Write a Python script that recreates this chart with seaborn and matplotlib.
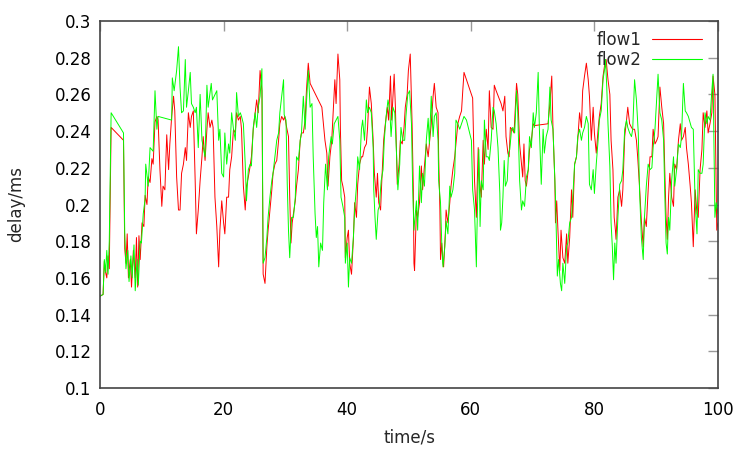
import matplotlib
matplotlib.use("Agg")
import matplotlib.pyplot as plt
import seaborn as sns
import pandas as pd

# flow1 delay (red)
flow1_t = [0.0, 0.5, 0.7, 0.9, 1.1, 1.3, 1.5, 1.8, 3.8, 4.0, 4.2, 4.4, 4.6, 4.9, 5.1, 5.4, 5.7, 5.9, 6.1, 6.3,
           6.5, 6.8, 7.1, 7.3, 7.6, 7.8, 8.1, 8.4, 8.6, 8.9, 9.2, 9.4, 9.7, 10.0, 10.2, 10.5, 10.8, 11.1, 11.3, 11.6,
           11.9, 12.1, 12.4, 12.7, 12.95, 13.2, 13.5, 13.8, 14.0, 14.3, 14.6, 14.8, 15.1, 15.4, 15.6, 15.9, 16.2, 16.5, 16.7, 17.0,
           17.3, 17.5, 17.8, 18.1, 18.3, 18.6, 18.9, 19.2, 19.4, 19.7, 20.0, 20.2, 20.5, 20.8, 21.0, 21.3, 21.6, 21.9, 22.1, 22.4,
           22.7, 22.9, 23.2, 23.5, 23.7, 24.0, 24.3, 24.5, 24.8, 25.1, 25.35, 25.6, 25.9, 26.2, 26.4, 26.7, 27.0, 27.2, 27.5, 27.8,
           28.0, 28.3, 28.6, 28.9, 29.1, 29.4, 29.7, 29.9, 30.2, 30.5, 30.7, 30.9, 31.1, 31.3, 31.6, 31.8, 32.1, 32.4, 32.6, 32.9,
           33.2, 33.4, 33.7, 34.0, 35.9, 36.1, 36.4, 36.7, 36.9, 37.2, 37.5, 37.8, 38.0, 38.2, 38.5, 38.8, 38.9, 39.1, 39.3, 39.6,
           39.7, 40.0, 40.2, 40.4, 40.7, 41.0, 41.2, 41.5, 41.7, 42.0, 42.3, 42.5, 42.8, 43.1, 43.3, 43.6, 43.9, 44.2, 44.4, 44.7,
           44.9, 45.1, 45.4, 45.6, 45.9, 46.1, 46.5, 46.7, 47.0, 47.2, 47.6, 47.8, 48.1, 48.4, 48.6, 48.9, 49.2, 49.4, 49.7, 49.9,
           50.2, 50.5, 50.7, 50.8, 50.9, 51.2, 51.4, 51.7, 52.0, 52.2, 52.5, 52.8, 53.1, 53.3, 53.6, 53.9, 54.1, 54.4, 54.7, 54.8,
           55.0, 55.1, 55.3, 55.5, 55.6, 55.9, 56.0, 56.3, 56.6, 56.8, 57.1, 57.4, 57.6, 57.9, 58.2, 58.5, 58.7, 58.9, 60.3, 60.6,
           60.9, 61.2, 61.4, 61.7, 62.0, 62.2, 62.5, 62.8, 63.0, 63.3, 63.6, 63.8, 64.1, 64.9, 65.2, 65.5, 65.7, 66.0, 66.2, 66.4,
           66.7, 67.0, 67.2, 67.4, 67.6, 67.9, 68.2, 68.4, 68.6, 68.8, 69.0, 69.3, 69.5, 69.8, 70.1, 70.3, 72.5, 72.8, 73.1, 73.3,
           73.6, 73.7, 73.9, 74.1, 74.4, 74.6, 74.9, 75.2, 75.5, 75.7, 76.0, 76.3, 76.5, 76.8, 77.1, 77.3, 77.6, 77.9, 78.1, 78.4,
           78.7, 79.0, 79.2, 79.5, 79.8, 80.0, 80.3, 80.6, 80.8, 81.1, 81.4, 81.7, 81.9, 82.2, 82.5, 82.7, 83.0, 83.2, 83.4, 83.5,
           83.8, 84.1, 84.4, 84.6, 84.9, 85.2, 85.4, 85.7, 86.0, 86.2, 86.5, 86.8, 87.0, 87.3, 87.6, 87.9, 88.1, 88.4, 88.7, 89.0,
           89.3, 89.5, 89.8, 90.1, 90.3, 90.6, 90.9, 91.2, 91.4, 91.6, 91.8, 92.0, 92.2, 92.5, 92.8, 93.0, 93.3, 93.6, 93.9, 94.1,
           94.4, 94.7, 94.9, 95.2, 95.5, 95.7, 96.0, 96.3, 96.6, 96.8, 97.1, 97.4, 97.6, 97.9, 98.2, 98.4, 98.7, 99.0, 99.2, 99.5,
           99.8, 100.0]
flow1_v = [0.150, 0.151, 0.169, 0.163, 0.160, 0.172, 0.165, 0.242, 0.235, 0.176, 0.168, 0.184, 0.160, 0.170, 0.155, 0.175, 0.160, 0.182, 0.155, 0.183,
           0.170, 0.190, 0.188, 0.205, 0.200, 0.215, 0.212, 0.225, 0.222, 0.245, 0.248, 0.246, 0.219, 0.199, 0.210, 0.208, 0.238, 0.219, 0.233, 0.248,
           0.259, 0.251, 0.215, 0.197, 0.197, 0.217, 0.222, 0.231, 0.224, 0.250, 0.242, 0.248, 0.251, 0.213, 0.184, 0.197, 0.213, 0.226, 0.237, 0.224,
           0.241, 0.250, 0.242, 0.246, 0.242, 0.204, 0.188, 0.166, 0.186, 0.202, 0.190, 0.184, 0.204, 0.204, 0.219, 0.226, 0.241, 0.239, 0.250, 0.246,
           0.248, 0.241, 0.210, 0.197, 0.210, 0.215, 0.221, 0.226, 0.241, 0.250, 0.257, 0.250, 0.273, 0.262, 0.162, 0.157, 0.177, 0.186, 0.197, 0.208,
           0.217, 0.222, 0.224, 0.235, 0.244, 0.248, 0.246, 0.248, 0.242, 0.237, 0.204, 0.179, 0.190, 0.195, 0.202, 0.210, 0.219, 0.235, 0.239, 0.239,
           0.246, 0.262, 0.277, 0.266, 0.253, 0.246, 0.235, 0.228, 0.210, 0.226, 0.235, 0.255, 0.268, 0.255, 0.282, 0.268, 0.241, 0.213, 0.210, 0.204,
           0.171, 0.182, 0.186, 0.168, 0.162, 0.181, 0.201, 0.193, 0.211, 0.222, 0.226, 0.226, 0.231, 0.233, 0.242, 0.264, 0.255, 0.235, 0.217, 0.204,
           0.217, 0.201, 0.197, 0.213, 0.235, 0.242, 0.253, 0.246, 0.270, 0.246, 0.271, 0.253, 0.211, 0.222, 0.235, 0.233, 0.242, 0.253, 0.260, 0.273,
           0.282, 0.244, 0.208, 0.168, 0.164, 0.197, 0.193, 0.201, 0.221, 0.208, 0.221, 0.233, 0.226, 0.233, 0.244, 0.259, 0.266, 0.253, 0.250, 0.226,
           0.197, 0.170, 0.179, 0.168, 0.166, 0.186, 0.197, 0.190, 0.201, 0.210, 0.219, 0.226, 0.233, 0.244, 0.248, 0.251, 0.262, 0.272, 0.258, 0.213,
           0.193, 0.231, 0.213, 0.204, 0.235, 0.222, 0.241, 0.230, 0.262, 0.242, 0.241, 0.265, 0.262, 0.255, 0.251, 0.259, 0.237, 0.228, 0.226, 0.242,
           0.241, 0.239, 0.253, 0.266, 0.260, 0.233, 0.222, 0.215, 0.233, 0.213, 0.210, 0.219, 0.230, 0.235, 0.244, 0.243, 0.244, 0.255, 0.270, 0.241,
           0.213, 0.190, 0.202, 0.186, 0.164, 0.186, 0.171, 0.168, 0.184, 0.168, 0.182, 0.208, 0.193, 0.222, 0.226, 0.235, 0.250, 0.242, 0.262, 0.270,
           0.277, 0.268, 0.259, 0.235, 0.253, 0.239, 0.228, 0.241, 0.248, 0.255, 0.270, 0.277, 0.279, 0.268, 0.260, 0.235, 0.219, 0.193, 0.186, 0.181,
           0.204, 0.208, 0.199, 0.208, 0.237, 0.246, 0.253, 0.244, 0.242, 0.241, 0.241, 0.235, 0.226, 0.210, 0.191, 0.177, 0.193, 0.188, 0.208, 0.226,
           0.226, 0.241, 0.233, 0.235, 0.237, 0.264, 0.253, 0.244, 0.217, 0.193, 0.181, 0.204, 0.217, 0.204, 0.199, 0.222, 0.219, 0.235, 0.244, 0.235,
           0.237, 0.242, 0.231, 0.222, 0.210, 0.201, 0.177, 0.208, 0.195, 0.193, 0.219, 0.230, 0.250, 0.242, 0.251, 0.239, 0.244, 0.250, 0.270, 0.260,
           0.186, 0.190]

# flow2 delay (green)
flow2_t = [0.0, 0.5, 0.7, 0.9, 1.1, 1.3, 1.5, 1.8, 3.8, 4.0, 4.2, 4.5, 4.7, 5.0, 5.2, 5.5, 5.7, 6.0, 6.2, 6.5,
           6.7, 7.0, 7.3, 7.4, 7.8, 8.1, 8.6, 8.9, 9.2, 9.4, 11.6, 11.7, 12.0, 12.4, 12.7, 12.95, 13.2, 13.5, 13.8, 14.0,
           14.3, 14.6, 14.8, 15.1, 15.4, 15.6, 15.9, 16.2, 16.5, 17.0, 17.3, 17.5, 18.0, 18.2, 18.9, 19.2, 19.4, 19.7, 20.0, 20.2,
           20.5, 20.8, 21.0, 21.3, 21.6, 21.9, 22.1, 22.4, 22.7, 22.9, 23.2, 23.5, 23.7, 24.0, 24.3, 24.5, 24.8, 25.1, 25.35, 25.6,
           25.9, 26.2, 26.4, 26.7, 27.0, 27.2, 27.5, 27.8, 28.0, 28.3, 28.6, 28.9, 29.1, 29.4, 29.7, 29.8, 30.1, 30.3, 30.5, 30.7,
           31.0, 31.3, 31.6, 31.8, 32.1, 32.4, 32.6, 32.9, 33.2, 33.4, 33.7, 34.0, 34.3, 34.5, 34.8, 35.0, 35.2, 35.4, 35.7, 36.0,
           36.2, 36.5, 36.8, 37.0, 37.4, 37.6, 37.9, 38.5, 38.8, 39.0, 39.3, 39.6, 39.7, 40.0, 40.2, 40.4, 40.7, 41.0, 41.2, 41.5,
           41.7, 42.0, 42.3, 42.5, 42.8, 43.1, 43.3, 43.6, 43.9, 44.2, 44.3, 44.5, 44.7, 45.0, 45.2, 45.5, 45.8, 46.0, 46.3, 46.6,
           46.9, 47.1, 47.4, 47.7, 48.0, 48.2, 48.5, 48.7, 49.0, 49.3, 49.5, 49.8, 50.1, 50.4, 50.6, 50.8, 51.2, 51.4, 51.7, 52.0,
           52.2, 52.5, 52.8, 53.1, 53.3, 53.6, 53.9, 54.1, 54.4, 54.7, 54.8, 55.1, 55.3, 55.5, 55.8, 56.0, 56.3, 56.6, 56.8, 57.1,
           57.4, 57.6, 57.9, 58.2, 58.5, 58.9, 59.3, 60.1, 60.3, 60.6, 60.9, 61.0, 61.3, 61.5, 61.7, 62.0, 62.2, 62.5, 62.8, 63.0,
           63.3, 63.6, 63.8, 64.1, 64.4, 64.7, 64.8, 65.0, 65.2, 65.4, 65.6, 65.9, 66.1, 66.3, 66.6, 66.8, 67.1, 67.4, 67.6, 67.9,
           68.2, 68.4, 68.7, 69.0, 69.3, 69.5, 69.8, 70.1, 70.3, 70.6, 70.9, 71.1, 71.4, 71.7, 71.9, 72.2, 72.5, 72.8, 73.0, 73.3,
           73.6, 73.7, 74.0, 74.2, 74.5, 74.7, 74.9, 75.2, 75.5, 75.7, 76.0, 76.3, 76.5, 76.8, 77.1, 77.3, 77.6, 77.9, 78.1, 78.4,
           78.7, 79.0, 79.2, 79.5, 79.8, 80.0, 80.3, 80.6, 80.8, 81.1, 81.4, 81.7, 81.8, 82.0, 82.2, 82.5, 82.7, 82.9, 83.1, 83.3,
           83.5, 83.8, 84.1, 84.4, 84.6, 84.9, 85.2, 85.4, 85.7, 86.0, 86.2, 86.5, 86.8, 87.1, 87.3, 87.6, 87.9, 88.1, 88.4, 88.7,
           89.0, 89.3, 89.5, 89.8, 90.1, 90.3, 90.6, 90.9, 91.2, 91.4, 91.6, 91.8, 92.0, 92.2, 92.5, 92.8, 93.0, 93.3, 93.6, 93.9,
           94.1, 94.4, 94.7, 94.9, 95.2, 95.7, 96.0, 96.3, 96.6, 96.8, 97.1, 97.4, 97.6, 97.9, 98.2, 98.4, 98.7, 99.0, 99.2, 99.5,
           99.7, 100.0]
flow2_v = [0.150, 0.151, 0.170, 0.163, 0.175, 0.162, 0.180, 0.250, 0.239, 0.185, 0.165, 0.175, 0.158, 0.172, 0.160, 0.178, 0.153, 0.170, 0.156, 0.180,
           0.179, 0.195, 0.203, 0.222, 0.210, 0.231, 0.229, 0.262, 0.241, 0.248, 0.246, 0.269, 0.262, 0.273, 0.286, 0.264, 0.250, 0.251, 0.279, 0.253,
           0.262, 0.272, 0.255, 0.253, 0.250, 0.253, 0.231, 0.260, 0.235, 0.226, 0.265, 0.253, 0.266, 0.257, 0.262, 0.235, 0.241, 0.217, 0.215, 0.239,
           0.222, 0.233, 0.228, 0.250, 0.241, 0.235, 0.261, 0.248, 0.250, 0.248, 0.244, 0.222, 0.202, 0.219, 0.222, 0.221, 0.242, 0.250, 0.242, 0.253,
           0.259, 0.274, 0.168, 0.171, 0.182, 0.193, 0.204, 0.213, 0.217, 0.226, 0.235, 0.239, 0.250, 0.259, 0.268, 0.249, 0.246, 0.211, 0.186, 0.171,
           0.193, 0.193, 0.204, 0.226, 0.224, 0.235, 0.239, 0.259, 0.241, 0.255, 0.273, 0.253, 0.255, 0.226, 0.195, 0.182, 0.188, 0.166, 0.179, 0.175,
           0.201, 0.222, 0.208, 0.226, 0.237, 0.233, 0.244, 0.248, 0.235, 0.204, 0.199, 0.193, 0.168, 0.179, 0.155, 0.171, 0.168, 0.182, 0.197, 0.210,
           0.226, 0.219, 0.241, 0.246, 0.235, 0.257, 0.250, 0.253, 0.250, 0.231, 0.208, 0.193, 0.181, 0.197, 0.199, 0.213, 0.219, 0.235, 0.248, 0.257,
           0.251, 0.237, 0.253, 0.250, 0.226, 0.208, 0.222, 0.242, 0.235, 0.235, 0.248, 0.260, 0.262, 0.244, 0.208, 0.186, 0.202, 0.186, 0.221, 0.201,
           0.217, 0.210, 0.235, 0.247, 0.233, 0.259, 0.237, 0.248, 0.250, 0.235, 0.213, 0.201, 0.179, 0.166, 0.177, 0.191, 0.184, 0.210, 0.204, 0.208,
           0.217, 0.246, 0.244, 0.241, 0.244, 0.248, 0.246, 0.235, 0.208, 0.197, 0.166, 0.186, 0.230, 0.188, 0.213, 0.208, 0.246, 0.226, 0.226, 0.224,
           0.235, 0.253, 0.251, 0.244, 0.231, 0.206, 0.186, 0.190, 0.204, 0.224, 0.210, 0.213, 0.228, 0.230, 0.241, 0.242, 0.239, 0.262, 0.250, 0.213,
           0.197, 0.202, 0.199, 0.215, 0.219, 0.237, 0.231, 0.250, 0.242, 0.250, 0.272, 0.241, 0.211, 0.241, 0.228, 0.237, 0.241, 0.264, 0.246, 0.241,
           0.213, 0.204, 0.161, 0.170, 0.157, 0.153, 0.168, 0.157, 0.177, 0.179, 0.190, 0.193, 0.204, 0.222, 0.226, 0.237, 0.241, 0.235, 0.239, 0.242,
           0.248, 0.244, 0.211, 0.208, 0.219, 0.206, 0.222, 0.235, 0.246, 0.251, 0.268, 0.275, 0.279, 0.264, 0.244, 0.221, 0.190, 0.177, 0.159, 0.179,
           0.168, 0.193, 0.211, 0.213, 0.219, 0.241, 0.246, 0.242, 0.239, 0.237, 0.241, 0.268, 0.257, 0.239, 0.208, 0.182, 0.170, 0.193, 0.210, 0.222,
           0.219, 0.220, 0.231, 0.241, 0.259, 0.271, 0.250, 0.246, 0.235, 0.204, 0.179, 0.173, 0.193, 0.186, 0.213, 0.226, 0.210, 0.219, 0.233, 0.231,
           0.237, 0.266, 0.251, 0.250, 0.248, 0.242, 0.241, 0.201, 0.184, 0.219, 0.217, 0.217, 0.222, 0.250, 0.244, 0.248, 0.246, 0.262, 0.271, 0.193,
           0.201, 0.195]

x_ticks = [0, 20, 40, 60, 80, 100]
y_ticks = [0.1, 0.12, 0.14, 0.16, 0.18, 0.2, 0.22, 0.24, 0.26, 0.28, 0.3]

df1 = pd.DataFrame({"t": flow1_t, "delay": flow1_v})
df2 = pd.DataFrame({"t": flow2_t, "delay": flow2_v})

sns.set_style("white")
plt.rcParams["font.family"] = ["DejaVu Sans"]

fig = plt.figure(figsize=(7.5, 4.5), dpi=100)
ax = fig.add_axes([100 / 750, 62 / 450, 618 / 750, 367 / 450])

sns.lineplot(data=df1, x="t", y="delay", ax=ax, color="#ff0000", lw=0.7,
             label="flow1", estimator=None, sort=False)
sns.lineplot(data=df2, x="t", y="delay", ax=ax, color="#00ff00", lw=0.7,
             label="flow2", estimator=None, sort=False)

ax.set_xlim(0, 100)
ax.set_ylim(0.1, 0.3)
ax.set_xticks(x_ticks)
ax.set_yticks(y_ticks)
ax.set_xticklabels([str(v) for v in x_ticks])
ax.set_yticklabels(["%g" % v for v in y_ticks])
ax.tick_params(direction="in", length=7, width=1, color="#999999",
               top=True, right=True, labelsize=12, labelcolor="black")
ax.tick_params(axis="x", pad=9.5)
ax.tick_params(axis="y", pad=6)
ax.set_xlabel("time/s", fontsize=12, labelpad=7)
ax.set_ylabel("delay/ms", fontsize=12, labelpad=21)
for s in ax.spines.values():
    s.set_color("#444444")
    s.set_linewidth(1.2)

leg = ax.legend(loc="upper right", bbox_to_anchor=(0.99, 1.0), frameon=False,
                markerfirst=False, fontsize=12, handlelength=3.0,
                handletextpad=0.6, labelspacing=0.1, borderaxespad=0.2)
for h in leg.get_lines():
    h.set_linewidth(0.8)

fig.savefig("out.png", dpi=100)
